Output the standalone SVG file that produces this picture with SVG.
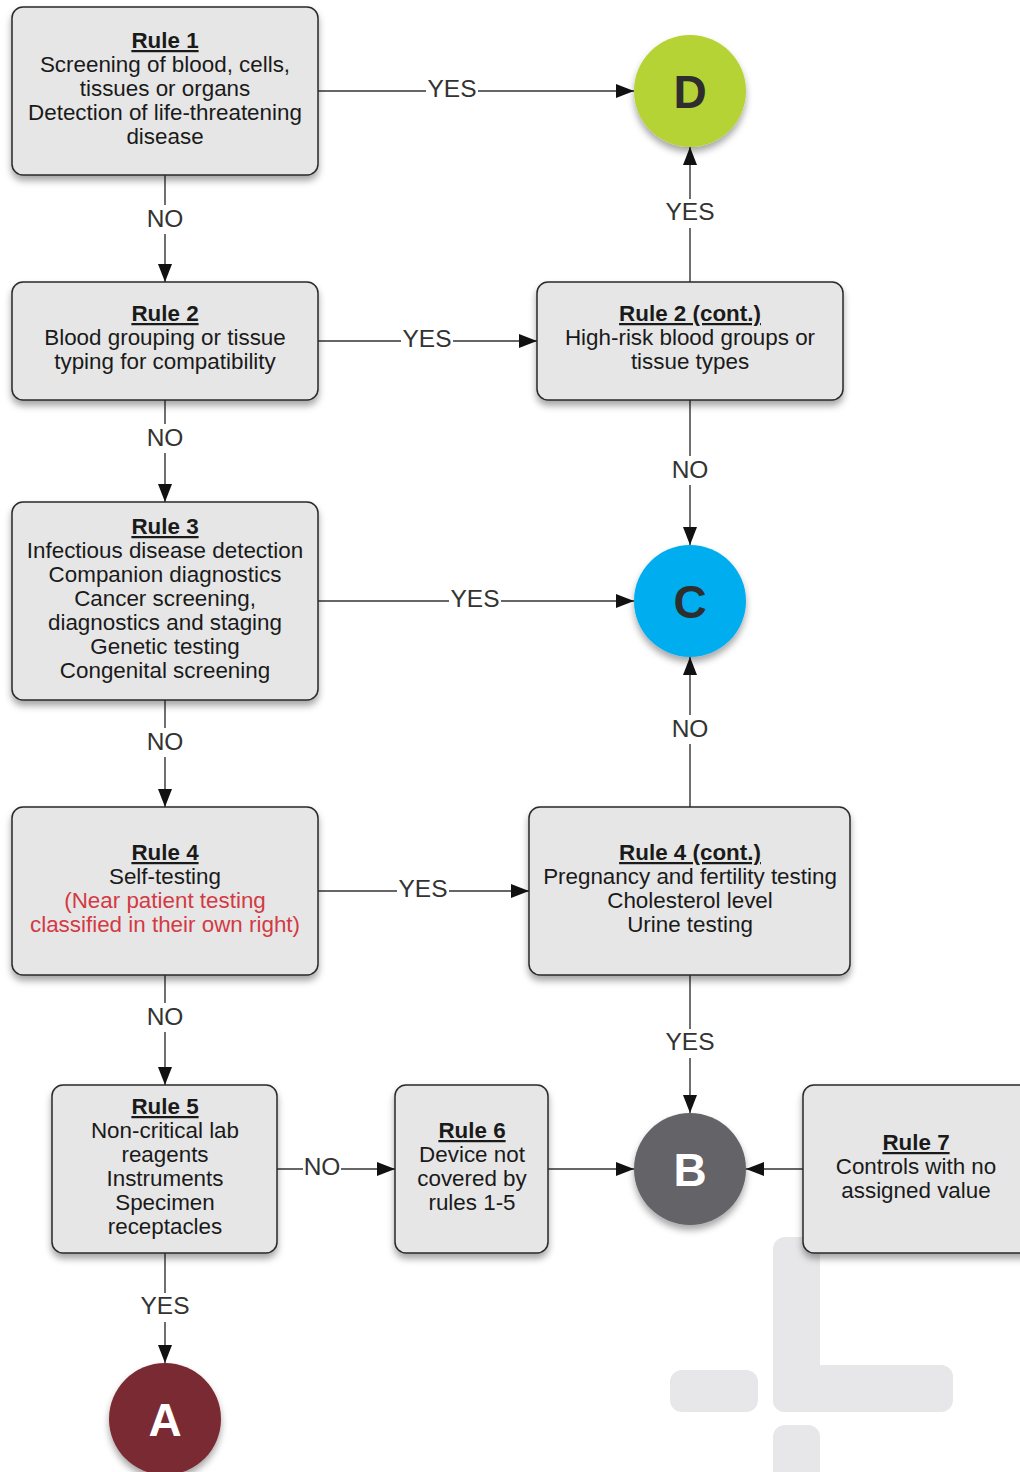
<svg xmlns="http://www.w3.org/2000/svg" width="1020" height="1472" viewBox="0 0 1020 1472">
<defs>
<filter id="sh" x="-20%" y="-20%" width="140%" height="150%">
<feDropShadow dx="0" dy="5" stdDeviation="3.5" flood-color="#000" flood-opacity="0.35"/>
</filter>
<marker id="arr" viewBox="0 0 18 14" refX="18" refY="7" markerWidth="18" markerHeight="14" markerUnits="userSpaceOnUse" orient="auto">
<path d="M0,0 L18,7 L0,14 Z" fill="#111"/>
</marker>
<style>
.box{fill:#e6e6e6;stroke:#2a2a2a;stroke-width:1.5;filter:url(#sh)}
.t{font-family:"Liberation Sans",Arial,sans-serif;font-size:22.4px;fill:#1a1a1a;text-anchor:middle}
.h{font-weight:bold;text-decoration:underline}
.red{fill:#d23a44}
.ln{stroke:#333;stroke-width:1.4;fill:none;marker-end:url(#arr)}
.lbl{font-family:"Liberation Sans",Arial,sans-serif;font-size:24.5px;fill:#333;text-anchor:middle}
.bg{fill:#fff}
.circ{filter:url(#sh)}
.cl{font-family:"Liberation Sans",Arial,sans-serif;font-size:46px;font-weight:bold;text-anchor:middle}
.wm{fill:#e7e7e9}
</style>
</defs>
<rect width="1020" height="1472" fill="#fff"/>
<g id="watermark">
<rect class="wm" x="773" y="1237" width="47" height="175" rx="12"/>
<rect class="wm" x="773" y="1365" width="180" height="47" rx="12"/>
<rect class="wm" x="670" y="1370" width="88" height="42" rx="12"/>
<rect class="wm" x="773" y="1425" width="47" height="60" rx="12"/>
</g>
<g id="connectors">
<path class="ln" d="M318,91 H634"/>
<rect class="bg" x="426" y="78" width="52" height="24"/>
<text class="lbl" x="452" y="97">YES</text>
<path class="ln" d="M165,175 V282"/>
<rect class="bg" x="143" y="205" width="44" height="29"/>
<text class="lbl" x="165" y="227">NO</text>
<path class="ln" d="M318,341 H537"/>
<rect class="bg" x="401" y="328" width="52" height="24"/>
<text class="lbl" x="427" y="347">YES</text>
<path class="ln" d="M690,282 V147"/>
<rect class="bg" x="664" y="199" width="52" height="29"/>
<text class="lbl" x="690" y="220">YES</text>
<path class="ln" d="M165,400 V502"/>
<rect class="bg" x="143" y="424" width="44" height="29"/>
<text class="lbl" x="165" y="446">NO</text>
<path class="ln" d="M690,400 V545"/>
<rect class="bg" x="668" y="456" width="44" height="29"/>
<text class="lbl" x="690" y="478">NO</text>
<path class="ln" d="M318,601 H634"/>
<rect class="bg" x="449" y="588" width="52" height="24"/>
<text class="lbl" x="475" y="607">YES</text>
<path class="ln" d="M165,700 V807"/>
<rect class="bg" x="143" y="728" width="44" height="29"/>
<text class="lbl" x="165" y="750">NO</text>
<path class="ln" d="M318,891 H529"/>
<rect class="bg" x="397" y="878" width="52" height="24"/>
<text class="lbl" x="423" y="897">YES</text>
<path class="ln" d="M690,807 V657"/>
<rect class="bg" x="668" y="715" width="44" height="29"/>
<text class="lbl" x="690" y="737">NO</text>
<path class="ln" d="M165,975 V1085"/>
<rect class="bg" x="143" y="1003" width="44" height="29"/>
<text class="lbl" x="165" y="1025">NO</text>
<path class="ln" d="M690,975 V1113"/>
<rect class="bg" x="664" y="1029" width="52" height="29"/>
<text class="lbl" x="690" y="1050">YES</text>
<path class="ln" d="M277,1169 H395"/>
<rect class="bg" x="303" y="1156" width="38" height="24"/>
<text class="lbl" x="322" y="1175">NO</text>
<path class="ln" d="M548,1169 H634"/>
<path class="ln" d="M803,1169 H746"/>
<path class="ln" d="M165,1253 V1363"/>
<rect class="bg" x="139" y="1293" width="52" height="29"/>
<text class="lbl" x="165" y="1314">YES</text>
</g>
<g id="rule1">
<rect class="box" x="12" y="7" width="306" height="168" rx="11"/>
<text class="t" x="165" y="48"><tspan class="h">Rule 1</tspan></text>
<text class="t" x="165" y="72">Screening of blood, cells,</text>
<text class="t" x="165" y="96">tissues or organs</text>
<text class="t" x="165" y="120">Detection of life-threatening</text>
<text class="t" x="165" y="144">disease</text>
</g>
<g id="rule2">
<rect class="box" x="12" y="282" width="306" height="118" rx="11"/>
<text class="t" x="165" y="321"><tspan class="h">Rule 2</tspan></text>
<text class="t" x="165" y="345">Blood grouping or tissue</text>
<text class="t" x="165" y="369">typing for compatibility</text>
</g>
<g id="rule2cont">
<rect class="box" x="537" y="282" width="306" height="118" rx="11"/>
<text class="t" x="690" y="321"><tspan class="h">Rule 2 (cont.)</tspan></text>
<text class="t" x="690" y="345">High-risk blood groups or</text>
<text class="t" x="690" y="369">tissue types</text>
</g>
<g id="rule3">
<rect class="box" x="12" y="502" width="306" height="198" rx="11"/>
<text class="t" x="165" y="534"><tspan class="h">Rule 3</tspan></text>
<text class="t" x="165" y="558">Infectious disease detection</text>
<text class="t" x="165" y="582">Companion diagnostics</text>
<text class="t" x="165" y="606">Cancer screening,</text>
<text class="t" x="165" y="630">diagnostics and staging</text>
<text class="t" x="165" y="654">Genetic testing</text>
<text class="t" x="165" y="678">Congenital screening</text>
</g>
<g id="rule4">
<rect class="box" x="12" y="807" width="306" height="168" rx="11"/>
<text class="t" x="165" y="860"><tspan class="h">Rule 4</tspan></text>
<text class="t" x="165" y="884">Self-testing</text>
<text class="t red" x="165" y="908">(Near patient testing</text>
<text class="t red" x="165" y="932">classified in their own right)</text>
</g>
<g id="rule4cont">
<rect class="box" x="529" y="807" width="321" height="168" rx="11"/>
<text class="t" x="690" y="860"><tspan class="h">Rule 4 (cont.)</tspan></text>
<text class="t" x="690" y="884">Pregnancy and fertility testing</text>
<text class="t" x="690" y="908">Cholesterol level</text>
<text class="t" x="690" y="932">Urine testing</text>
</g>
<g id="rule5">
<rect class="box" x="52" y="1085" width="225" height="168" rx="11"/>
<text class="t" x="165" y="1114"><tspan class="h">Rule 5</tspan></text>
<text class="t" x="165" y="1138">Non-critical lab</text>
<text class="t" x="165" y="1162">reagents</text>
<text class="t" x="165" y="1186">Instruments</text>
<text class="t" x="165" y="1210">Specimen</text>
<text class="t" x="165" y="1234">receptacles</text>
</g>
<g id="rule6">
<rect class="box" x="395" y="1085" width="153" height="168" rx="11"/>
<text class="t" x="472" y="1138"><tspan class="h">Rule 6</tspan></text>
<text class="t" x="472" y="1162">Device not</text>
<text class="t" x="472" y="1186">covered by</text>
<text class="t" x="472" y="1210">rules 1-5</text>
</g>
<g id="rule7">
<rect class="box" x="803" y="1085" width="240" height="168" rx="11"/>
<text class="t" x="916" y="1150"><tspan class="h">Rule 7</tspan></text>
<text class="t" x="916" y="1174">Controls with no</text>
<text class="t" x="916" y="1198">assigned value</text>
</g>
<g id="nodeD">
<circle class="circ" cx="690" cy="91" r="56" fill="#b6d334"/>
<text class="cl" x="690" y="108" fill="#2e2e2e">D</text>
</g>
<g id="nodeC">
<circle class="circ" cx="690" cy="601" r="56" fill="#00aeef"/>
<text class="cl" x="690" y="618" fill="#2e2e2e">C</text>
</g>
<g id="nodeB">
<circle class="circ" cx="690" cy="1169" r="56" fill="#636467"/>
<text class="cl" x="690" y="1186" fill="#fff">B</text>
</g>
<g id="nodeA">
<circle class="circ" cx="165" cy="1419" r="56" fill="#7a2a30"/>
<text class="cl" x="165" y="1436" fill="#fff">A</text>
</g>
</svg>
